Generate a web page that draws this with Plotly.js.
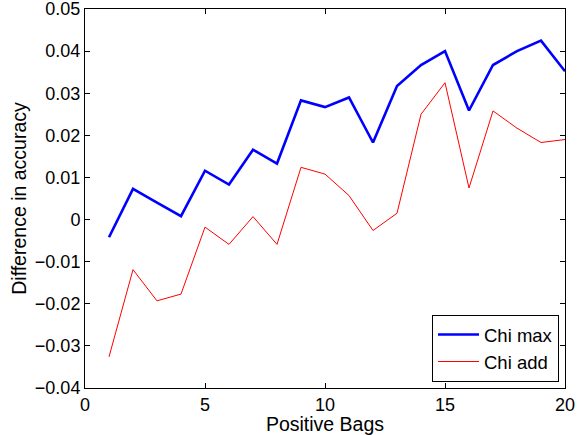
<!DOCTYPE html>
<html><head><meta charset="utf-8">
<script src="https://cdn.plot.ly/plotly-3.0.1.min.js"></script>
<style>html,body{margin:0;padding:0;background:#fff}#plot{width:581px;height:435px}</style>
</head><body><div id="plot"></div>
<script>
const bags = [1,2,3,4,5,6,7,8,9,10,11,12,13,14,15,16,17,18,19,20];
const chiMax = [-0.0042,0.0073,0.0040,0.0008,0.0116,0.0083,0.0166,0.0133,0.0283,0.0267,0.0290,0.0183,0.0317,0.0367,0.0400,0.0259,0.0367,0.0400,0.0425,0.0352];
const chiAdd = [-0.0326,-0.0119,-0.0193,-0.0177,-0.0018,-0.0059,0.0007,-0.0059,0.0124,0.0108,0.0057,-0.0026,0.0015,0.0250,0.0325,0.0075,0.0258,0.0217,0.0183,0.0190];
const yTickVals = [-0.04,-0.03,-0.02,-0.01,0,0.01,0.02,0.03,0.04,0.05];
const yTickText = ["\u22120.04","\u22120.03","\u22120.02","\u22120.01","0","0.01","0.02","0.03","0.04","0.05"];
const xTickVals = [0,5,10,15,20];
const xTickText = ["0","5","10","15","20"];

const fam = "Liberation Sans, Arial, sans-serif";
const tickFont = {family: fam, size: 18, color: "#000"};
const titleFont = {family: fam, size: 19.5, color: "#000"};
const legendFont = {family: fam, size: 18.5, color: "#000"};
const traces = [
  {x: bags, y: chiMax, type: "scatter", mode: "lines", name: "Chi max", line: {color: "#0000ff", width: 2.6}},
  {x: bags, y: chiAdd, type: "scatter", mode: "lines", name: "Chi add", line: {color: "#ff0000", width: 1}}
];
const axisCommon = {
  showgrid: false, zeroline: false, showline: true, mirror: "ticks",
  linecolor: "#000", linewidth: 1, ticks: "inside", ticklen: 5, tickcolor: "#000",
  tickfont: tickFont, ticklabeloverflow: "allow"
};
const layout = {
  width: 581, height: 435,
  margin: {l: 85, r: 16, t: 9, b: 47},
  paper_bgcolor: "#fff", plot_bgcolor: "#fff",
  font: tickFont,
  xaxis: Object.assign({}, axisCommon, {
    range: [0, 20], tickmode: "array", tickvals: xTickVals, ticktext: xTickText,
    title: {text: "Positive Bags", font: titleFont, standoff: 0}
  }),
  yaxis: Object.assign({}, axisCommon, {
    range: [-0.04, 0.05], tickmode: "array", tickvals: yTickVals, ticktext: yTickText,
    title: {text: "Difference in accuracy", font: titleFont, standoff: 3}
  }),
  showlegend: true,
  legend: {
    x: 0.9875, y: 0.016, xanchor: "right", yanchor: "bottom",
    bgcolor: "#fff", bordercolor: "#000", borderwidth: 1,
    font: legendFont, tracegroupgap: 0, itemwidth: 41
  }
};
Plotly.newPlot("plot", traces, layout, {staticPlot: true});
</script></body></html>
